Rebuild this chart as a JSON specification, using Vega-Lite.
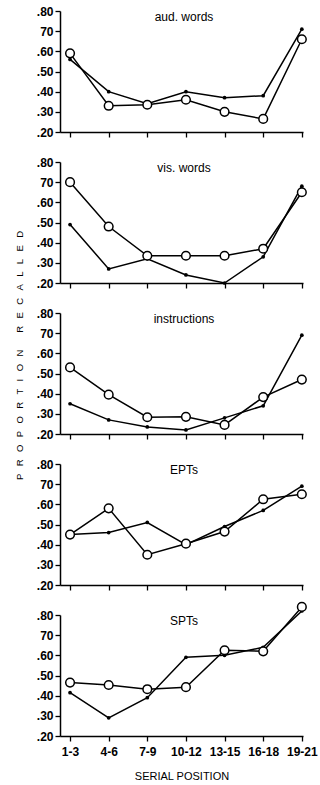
{
  "$schema": "https://vega.github.io/schema/vega-lite/v6.json",
  "background": "white",
  "padding": {"left": 14, "top": 5, "right": 4, "bottom": 2},
  "bounds": "flush",
  "spacing": 30,
  "config": {
    "view": {"stroke": null},
    "font": "Liberation Sans",
    "axis": {
      "grid": false,
      "domainColor": "black",
      "domainWidth": 1.5,
      "tickColor": "black",
      "tickWidth": 1.3,
      "tickSize": 5,
      "labelColor": "black",
      "labelFont": "Liberation Sans",
      "labelFontSize": 12,
      "labelFontWeight": "bold",
      "titleColor": "black",
      "titleFont": "Liberation Sans",
      "titleFontWeight": "normal"
    }
  },
  "data": {
    "values": [
      {"panel": "aud. words", "series": "filled", "pos": 1, "value": 0.56},
      {"panel": "aud. words", "series": "filled", "pos": 2, "value": 0.40},
      {"panel": "aud. words", "series": "filled", "pos": 3, "value": 0.34},
      {"panel": "aud. words", "series": "filled", "pos": 4, "value": 0.40},
      {"panel": "aud. words", "series": "filled", "pos": 5, "value": 0.37},
      {"panel": "aud. words", "series": "filled", "pos": 6, "value": 0.38},
      {"panel": "aud. words", "series": "filled", "pos": 7, "value": 0.71},
      {"panel": "aud. words", "series": "open", "pos": 1, "value": 0.59},
      {"panel": "aud. words", "series": "open", "pos": 2, "value": 0.33},
      {"panel": "aud. words", "series": "open", "pos": 3, "value": 0.335},
      {"panel": "aud. words", "series": "open", "pos": 4, "value": 0.36},
      {"panel": "aud. words", "series": "open", "pos": 5, "value": 0.30},
      {"panel": "aud. words", "series": "open", "pos": 6, "value": 0.265},
      {"panel": "aud. words", "series": "open", "pos": 7, "value": 0.66},

      {"panel": "vis. words", "series": "filled", "pos": 1, "value": 0.49},
      {"panel": "vis. words", "series": "filled", "pos": 2, "value": 0.27},
      {"panel": "vis. words", "series": "filled", "pos": 3, "value": 0.32},
      {"panel": "vis. words", "series": "filled", "pos": 4, "value": 0.24},
      {"panel": "vis. words", "series": "filled", "pos": 5, "value": 0.20},
      {"panel": "vis. words", "series": "filled", "pos": 6, "value": 0.33},
      {"panel": "vis. words", "series": "filled", "pos": 7, "value": 0.68},
      {"panel": "vis. words", "series": "open", "pos": 1, "value": 0.70},
      {"panel": "vis. words", "series": "open", "pos": 2, "value": 0.48},
      {"panel": "vis. words", "series": "open", "pos": 3, "value": 0.335},
      {"panel": "vis. words", "series": "open", "pos": 4, "value": 0.335},
      {"panel": "vis. words", "series": "open", "pos": 5, "value": 0.335},
      {"panel": "vis. words", "series": "open", "pos": 6, "value": 0.37},
      {"panel": "vis. words", "series": "open", "pos": 7, "value": 0.65},

      {"panel": "instructions", "series": "filled", "pos": 1, "value": 0.35},
      {"panel": "instructions", "series": "filled", "pos": 2, "value": 0.27},
      {"panel": "instructions", "series": "filled", "pos": 3, "value": 0.235},
      {"panel": "instructions", "series": "filled", "pos": 4, "value": 0.22},
      {"panel": "instructions", "series": "filled", "pos": 5, "value": 0.28},
      {"panel": "instructions", "series": "filled", "pos": 6, "value": 0.34},
      {"panel": "instructions", "series": "filled", "pos": 7, "value": 0.69},
      {"panel": "instructions", "series": "open", "pos": 1, "value": 0.53},
      {"panel": "instructions", "series": "open", "pos": 2, "value": 0.395},
      {"panel": "instructions", "series": "open", "pos": 3, "value": 0.283},
      {"panel": "instructions", "series": "open", "pos": 4, "value": 0.285},
      {"panel": "instructions", "series": "open", "pos": 5, "value": 0.245},
      {"panel": "instructions", "series": "open", "pos": 6, "value": 0.383},
      {"panel": "instructions", "series": "open", "pos": 7, "value": 0.47},

      {"panel": "EPTs", "series": "filled", "pos": 1, "value": 0.45},
      {"panel": "EPTs", "series": "filled", "pos": 2, "value": 0.46},
      {"panel": "EPTs", "series": "filled", "pos": 3, "value": 0.51},
      {"panel": "EPTs", "series": "filled", "pos": 4, "value": 0.40},
      {"panel": "EPTs", "series": "filled", "pos": 5, "value": 0.49},
      {"panel": "EPTs", "series": "filled", "pos": 6, "value": 0.57},
      {"panel": "EPTs", "series": "filled", "pos": 7, "value": 0.69},
      {"panel": "EPTs", "series": "open", "pos": 1, "value": 0.45},
      {"panel": "EPTs", "series": "open", "pos": 2, "value": 0.58},
      {"panel": "EPTs", "series": "open", "pos": 3, "value": 0.35},
      {"panel": "EPTs", "series": "open", "pos": 4, "value": 0.405},
      {"panel": "EPTs", "series": "open", "pos": 5, "value": 0.465},
      {"panel": "EPTs", "series": "open", "pos": 6, "value": 0.625},
      {"panel": "EPTs", "series": "open", "pos": 7, "value": 0.65},

      {"panel": "SPTs", "series": "filled", "pos": 1, "value": 0.415},
      {"panel": "SPTs", "series": "filled", "pos": 2, "value": 0.29},
      {"panel": "SPTs", "series": "filled", "pos": 3, "value": 0.39},
      {"panel": "SPTs", "series": "filled", "pos": 4, "value": 0.59},
      {"panel": "SPTs", "series": "filled", "pos": 5, "value": 0.60},
      {"panel": "SPTs", "series": "filled", "pos": 6, "value": 0.64},
      {"panel": "SPTs", "series": "filled", "pos": 7, "value": 0.82},
      {"panel": "SPTs", "series": "open", "pos": 1, "value": 0.465},
      {"panel": "SPTs", "series": "open", "pos": 2, "value": 0.453},
      {"panel": "SPTs", "series": "open", "pos": 3, "value": 0.432},
      {"panel": "SPTs", "series": "open", "pos": 4, "value": 0.442},
      {"panel": "SPTs", "series": "open", "pos": 5, "value": 0.625},
      {"panel": "SPTs", "series": "open", "pos": 6, "value": 0.62},
      {"panel": "SPTs", "series": "open", "pos": 7, "value": 0.84}
    ]
  },
  "vconcat": [
    {
      "width": 243, "height": 121,
      "transform": [{"filter": "datum.panel == 'aud. words'"}],
      "encoding": {
        "x": {"field": "pos", "type": "quantitative", "scale": {"domain": [0.74, 7.03], "nice": false, "zero": false}, "axis": {"values": [1, 2, 3, 4, 5, 6, 7], "labels": false, "title": null}},
        "y": {"field": "value", "type": "quantitative", "scale": {"domain": [0.2, 0.8], "nice": false, "zero": false}, "axis": {"values": [0.2, 0.3, 0.4, 0.5, 0.6, 0.7, 0.8], "labelPadding": 2, "labelExpr": "datum.value == 0.7 ? '70' : replace(format(datum.value, '.2f'), '0.', '.')", "title": null}}
      },
      "layer": [
        {"mark": {"type": "line", "color": "black", "strokeWidth": 1.5}, "encoding": {"detail": {"field": "series"}}},
        {"transform": [{"filter": "datum.series == 'filled'"}], "mark": {"type": "point", "shape": "circle", "filled": true, "color": "black", "size": 14, "opacity": 1}},
        {"transform": [{"filter": "datum.series == 'open'"}], "mark": {"type": "point", "shape": "circle", "filled": true, "fill": "white", "stroke": "black", "strokeWidth": 1.5, "size": 75, "opacity": 1}},
        {"transform": [{"filter": "datum.pos == 1 && datum.series == 'open'"}], "mark": {"type": "text", "font": "Liberation Sans", "fontSize": 12, "color": "black", "align": "center", "baseline": "middle"}, "encoding": {"x": {"datum": 3.95}, "y": {"datum": 0.768}, "text": {"field": "panel"}}}
      ]
    },
    {
      "width": 243, "height": 121,
      "transform": [{"filter": "datum.panel == 'vis. words'"}],
      "encoding": {
        "x": {"field": "pos", "type": "quantitative", "scale": {"domain": [0.74, 7.03], "nice": false, "zero": false}, "axis": {"values": [1, 2, 3, 4, 5, 6, 7], "labels": false, "title": null}},
        "y": {"field": "value", "type": "quantitative", "scale": {"domain": [0.2, 0.8], "nice": false, "zero": false}, "axis": {"values": [0.2, 0.3, 0.4, 0.5, 0.6, 0.7, 0.8], "labelPadding": 2, "labelExpr": "datum.value == 0.7 ? '70' : replace(format(datum.value, '.2f'), '0.', '.')", "title": null}}
      },
      "layer": [
        {"mark": {"type": "line", "color": "black", "strokeWidth": 1.5}, "encoding": {"detail": {"field": "series"}}},
        {"transform": [{"filter": "datum.series == 'filled'"}], "mark": {"type": "point", "shape": "circle", "filled": true, "color": "black", "size": 14, "opacity": 1}},
        {"transform": [{"filter": "datum.series == 'open'"}], "mark": {"type": "point", "shape": "circle", "filled": true, "fill": "white", "stroke": "black", "strokeWidth": 1.5, "size": 75, "opacity": 1}},
        {"transform": [{"filter": "datum.pos == 1 && datum.series == 'open'"}], "mark": {"type": "text", "font": "Liberation Sans", "fontSize": 12, "color": "black", "align": "center", "baseline": "middle"}, "encoding": {"x": {"datum": 3.95}, "y": {"datum": 0.768}, "text": {"field": "panel"}}}
      ]
    },
    {
      "width": 243, "height": 121,
      "transform": [{"filter": "datum.panel == 'instructions'"}],
      "encoding": {
        "x": {"field": "pos", "type": "quantitative", "scale": {"domain": [0.74, 7.03], "nice": false, "zero": false}, "axis": {"values": [1, 2, 3, 4, 5, 6, 7], "labels": false, "title": null}},
        "y": {"field": "value", "type": "quantitative", "scale": {"domain": [0.2, 0.8], "nice": false, "zero": false}, "axis": {"values": [0.2, 0.3, 0.4, 0.5, 0.6, 0.7, 0.8], "labelPadding": 2, "labelExpr": "datum.value == 0.7 ? '70' : replace(format(datum.value, '.2f'), '0.', '.')", "title": "P\u2002\u00a0R\u2002\u00a0O\u2002\u00a0P\u2002\u00a0O\u2002\u00a0R\u2002\u00a0T\u2002\u00a0I\u2002\u00a0O\u2002\u00a0N\u2003\u2002\u00a0R\u2002\u00a0E\u2002\u00a0C\u2002\u00a0A\u2002\u00a0L\u2002\u00a0L\u2002\u00a0E\u2002\u00a0D", "titleFontSize": 9.5, "titlePadding": 12, "titleY": 42}}
      },
      "layer": [
        {"mark": {"type": "line", "color": "black", "strokeWidth": 1.5}, "encoding": {"detail": {"field": "series"}}},
        {"transform": [{"filter": "datum.series == 'filled'"}], "mark": {"type": "point", "shape": "circle", "filled": true, "color": "black", "size": 14, "opacity": 1}},
        {"transform": [{"filter": "datum.series == 'open'"}], "mark": {"type": "point", "shape": "circle", "filled": true, "fill": "white", "stroke": "black", "strokeWidth": 1.5, "size": 75, "opacity": 1}},
        {"transform": [{"filter": "datum.pos == 1 && datum.series == 'open'"}], "mark": {"type": "text", "font": "Liberation Sans", "fontSize": 12, "color": "black", "align": "center", "baseline": "middle"}, "encoding": {"x": {"datum": 3.95}, "y": {"datum": 0.768}, "text": {"field": "panel"}}}
      ]
    },
    {
      "width": 243, "height": 121,
      "transform": [{"filter": "datum.panel == 'EPTs'"}],
      "encoding": {
        "x": {"field": "pos", "type": "quantitative", "scale": {"domain": [0.74, 7.03], "nice": false, "zero": false}, "axis": {"values": [1, 2, 3, 4, 5, 6, 7], "labels": false, "title": null}},
        "y": {"field": "value", "type": "quantitative", "scale": {"domain": [0.2, 0.8], "nice": false, "zero": false}, "axis": {"values": [0.2, 0.3, 0.4, 0.5, 0.6, 0.7, 0.8], "labelPadding": 2, "labelExpr": "datum.value == 0.7 ? '70' : replace(format(datum.value, '.2f'), '0.', '.')", "title": null}}
      },
      "layer": [
        {"mark": {"type": "line", "color": "black", "strokeWidth": 1.5}, "encoding": {"detail": {"field": "series"}}},
        {"transform": [{"filter": "datum.series == 'filled'"}], "mark": {"type": "point", "shape": "circle", "filled": true, "color": "black", "size": 14, "opacity": 1}},
        {"transform": [{"filter": "datum.series == 'open'"}], "mark": {"type": "point", "shape": "circle", "filled": true, "fill": "white", "stroke": "black", "strokeWidth": 1.5, "size": 75, "opacity": 1}},
        {"transform": [{"filter": "datum.pos == 1 && datum.series == 'open'"}], "mark": {"type": "text", "font": "Liberation Sans", "fontSize": 12, "color": "black", "align": "center", "baseline": "middle"}, "encoding": {"x": {"datum": 3.95}, "y": {"datum": 0.768}, "text": {"field": "panel"}}}
      ]
    },
    {
      "width": 243, "height": 121,
      "transform": [{"filter": "datum.panel == 'SPTs'"}],
      "encoding": {
        "x": {"field": "pos", "type": "quantitative", "scale": {"domain": [0.74, 7.03], "nice": false, "zero": false}, "axis": {"values": [1, 2, 3, 4, 5, 6, 7], "labelExpr": "['1-3', '4-6', '7-9', '10-12', '13-15', '16-18', '19-21'][datum.value - 1]", "labelPadding": 5, "labelFontSize": 12, "title": "SERIAL POSITION", "titleFontSize": 11, "titlePadding": 13}},
        "y": {"field": "value", "type": "quantitative", "scale": {"domain": [0.2, 0.8], "nice": false, "zero": false}, "axis": {"values": [0.2, 0.3, 0.4, 0.5, 0.6, 0.7, 0.8], "labelPadding": 2, "labelExpr": "datum.value == 0.7 ? '70' : replace(format(datum.value, '.2f'), '0.', '.')", "title": null}}
      },
      "layer": [
        {"mark": {"type": "line", "color": "black", "strokeWidth": 1.5}, "encoding": {"detail": {"field": "series"}}},
        {"transform": [{"filter": "datum.series == 'filled'"}], "mark": {"type": "point", "shape": "circle", "filled": true, "color": "black", "size": 14, "opacity": 1}},
        {"transform": [{"filter": "datum.series == 'open'"}], "mark": {"type": "point", "shape": "circle", "filled": true, "fill": "white", "stroke": "black", "strokeWidth": 1.5, "size": 75, "opacity": 1}},
        {"transform": [{"filter": "datum.pos == 1 && datum.series == 'open'"}], "mark": {"type": "text", "font": "Liberation Sans", "fontSize": 12, "color": "black", "align": "center", "baseline": "middle"}, "encoding": {"x": {"datum": 3.95}, "y": {"datum": 0.768}, "text": {"field": "panel"}}}
      ]
    }
  ]
}
